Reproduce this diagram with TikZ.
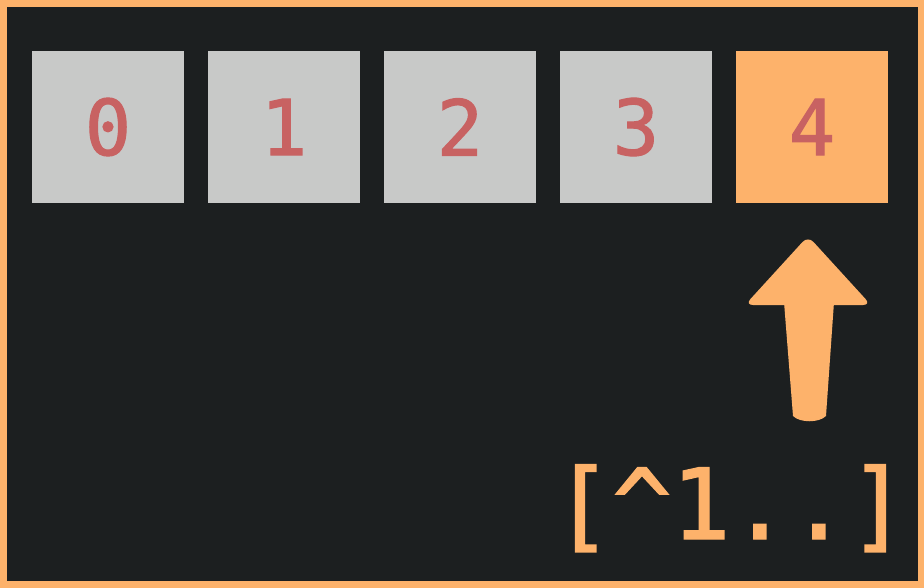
\documentclass[tikz,border=0pt]{standalone}
\usepackage{fontspec}
\setmonofont{DejaVu Sans Mono}
\newfontfamily\heavymono{DejaVu Sans Mono}[FakeBold=1.5]
\usepackage{tikz}
\usetikzlibrary{positioning}
\definecolor{bgdark}{HTML}{1C1F20}
\definecolor{accent}{HTML}{FDB26B}
\definecolor{cellgray}{HTML}{C8C9C8}
\definecolor{digitred}{HTML}{C86262}
\tikzset{
  cell/.style={fill=cellgray, minimum size=152pt, inner sep=0pt, outer sep=0pt,
    text=digitred, font=\heavymono\fontsize{77}{77}\selectfont},
  current/.style={cell, fill=accent},
  slice/.style={text=accent, inner sep=0pt, font=\heavymono\fontsize{98}{98}\selectfont},
  pointer/.style={fill=accent},
}

\begin{document}
\begin{tikzpicture}[x=1pt, y=-1pt, node distance=24pt]
    % frame
    \fill[accent] (0,0) rectangle (924,588);
    \fill[bgdark] (7,7) rectangle (918,581);

    \node[cell] (c0) at (108,127) {0};
    \node[cell, right=of c0] (c1) {1};
    \node[cell, right=of c1] (c2) {2};
    \node[cell, right=of c2] (c3) {3};
    \node[current, right=of c3] (c4) {4};

    \node[slice, anchor=base] (range) at (730.5,539) {[\textasciicircum 1..]};

    % arrow from the range up to the last cell
    \fill[pointer, rounded corners=8pt] (808,236) -- (745,305) -- (871,305) -- cycle;
    \fill[pointer] (784,302) -- (793,416) .. controls (800,423) and (819,423) .. (826,416)
      -- (834,302) -- cycle;

\end{tikzpicture}
\end{document}
